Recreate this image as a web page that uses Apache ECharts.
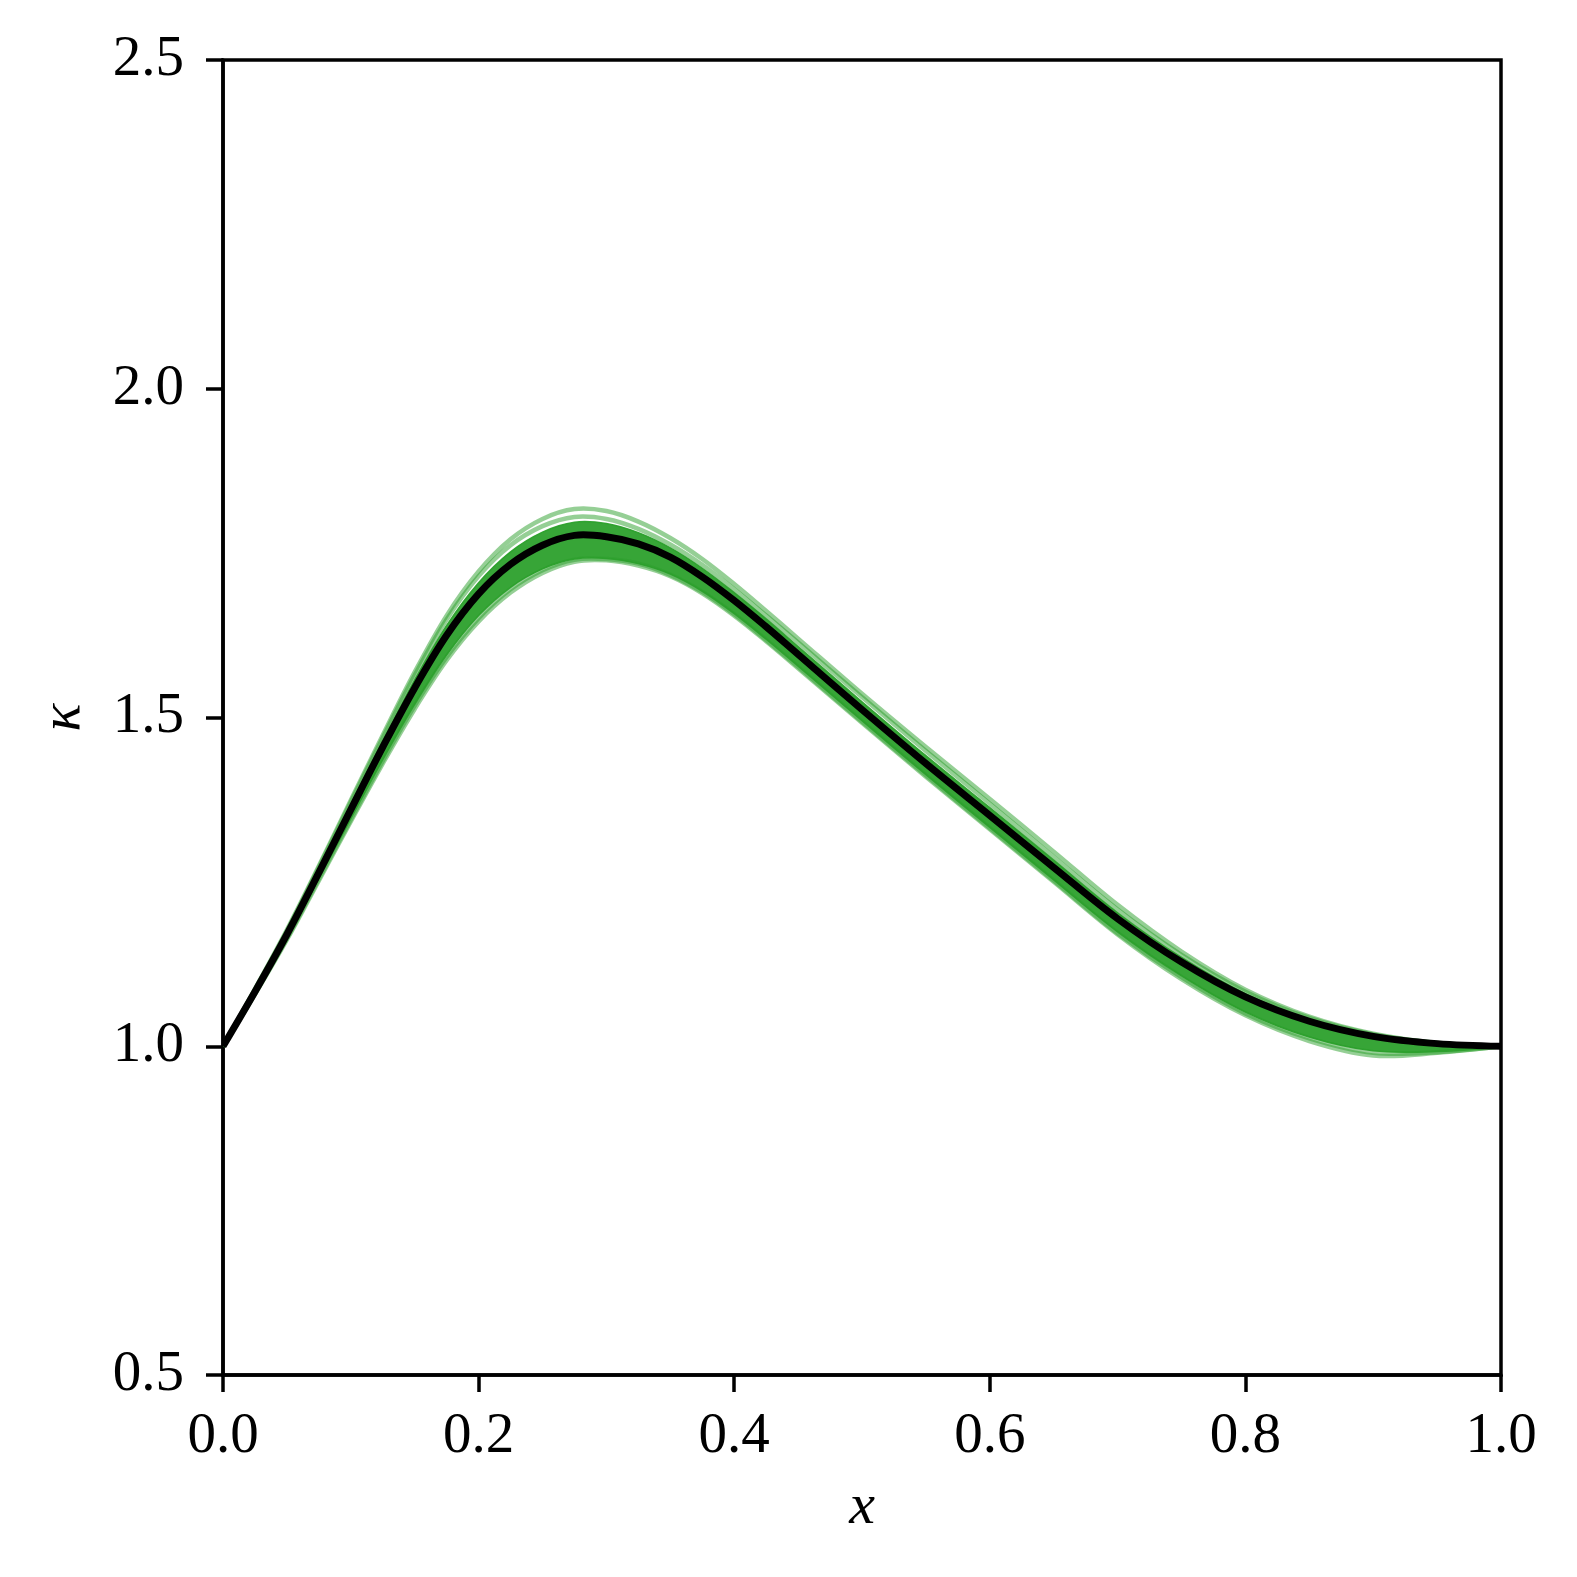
<!DOCTYPE html>
<html>
<head>
<meta charset="utf-8">
<script src="https://cdn.jsdelivr.net/npm/echarts@6/dist/echarts.min.js"></script>
<style>
html, body { margin: 0; padding: 0; background: #fff; }
#main { width: 1577px; height: 1577px; }
</style>
</head>
<body>
<div id="main"></div>
<script>
// x positions shared by every curve (denser where the curve bends)
var xs = [0, 0.025, 0.05, 0.075, 0.1, 0.125, 0.15, 0.175, 0.2, 0.225,
          0.25, 0.275, 0.3, 0.325, 0.35, 0.375, 0.4, 0.425, 0.45,
          0.5, 0.55, 0.6, 0.65, 0.7, 0.75, 0.8, 0.85, 0.9, 0.95, 1.0];

// mean curve (black)
var kappaMean = [1.000, 1.083, 1.170, 1.264, 1.360, 1.455, 1.545, 1.625, 1.688, 1.733,
                 1.762, 1.777, 1.775, 1.764, 1.744, 1.714, 1.678, 1.638, 1.596,
                 1.512, 1.430, 1.351, 1.272, 1.194, 1.128, 1.075, 1.038, 1.015, 1.004, 1.000];

// dense core of the sample ensemble (where the green lines pile up)
var coreUpper = [1.000, 1.085, 1.173, 1.269, 1.367, 1.464, 1.557, 1.640, 1.705, 1.752,
                 1.782, 1.797, 1.795, 1.781, 1.758, 1.727, 1.690, 1.650, 1.608,
                 1.524, 1.442, 1.363, 1.283, 1.203, 1.135, 1.080, 1.041, 1.017, 1.005, 1.000];
var coreLower = [1.000, 1.080, 1.164, 1.255, 1.346, 1.436, 1.520, 1.595, 1.655, 1.698,
                 1.726, 1.741, 1.742, 1.734, 1.718, 1.692, 1.658, 1.619, 1.578,
                 1.495, 1.413, 1.333, 1.253, 1.174, 1.107, 1.052, 1.014, 0.993, 0.992, 1.000];

// outlying samples (thin light green lines)
var sampleTop1 = [1.000, 1.087, 1.177, 1.274, 1.374, 1.473, 1.569, 1.655, 1.722, 1.771,
                  1.802, 1.817, 1.814, 1.798, 1.773, 1.741, 1.703, 1.662, 1.620,
                  1.536, 1.455, 1.376, 1.296, 1.215, 1.144, 1.086, 1.045, 1.019, 1.005, 1.000];
var sampleTop2 = [1.000, 1.086, 1.175, 1.272, 1.371, 1.469, 1.564, 1.649, 1.715, 1.762,
                  1.791, 1.805, 1.802, 1.787, 1.763, 1.732, 1.695, 1.655, 1.614,
                  1.531, 1.449, 1.369, 1.288, 1.208, 1.139, 1.083, 1.043, 1.018, 1.005, 1.000];
var sampleLow1 = [1.000, 1.079, 1.162, 1.252, 1.342, 1.430, 1.513, 1.587, 1.646, 1.690,
                  1.720, 1.737, 1.739, 1.731, 1.715, 1.689, 1.655, 1.616, 1.575,
                  1.492, 1.410, 1.330, 1.250, 1.170, 1.102, 1.047, 1.008, 0.986, 0.990, 1.000];
var sampleLow2 = [1.000, 1.080, 1.164, 1.255, 1.345, 1.434, 1.518, 1.592, 1.651, 1.695,
                  1.724, 1.740, 1.741, 1.734, 1.717, 1.691, 1.657, 1.618, 1.577,
                  1.494, 1.412, 1.332, 1.252, 1.172, 1.105, 1.050, 1.012, 0.990, 0.991, 1.000];

var outliers = [sampleTop1, sampleTop2, sampleLow1, sampleLow2];

// axis ticks
var xTicks = [0.0, 0.2, 0.4, 0.6, 0.8, 1.0];
var yTicks = [0.5, 1.0, 1.5, 2.0, 2.5];

var serif = "'Liberation Serif', 'DejaVu Serif', serif";
var green = '#2ca02c';
var SMOOTH = 0.35;

// map a curve to pixel points through the chart's own axes
function toPixels(api, ys) {
    return xs.map(function (x, i) { return api.coord([x, ys[i]]); });
}

function curveSeries(name, ys, z, style) {
    return {
        name: name,
        type: 'custom',
        coordinateSystem: 'cartesian2d',
        silent: true,
        clip: true,
        z: z,
        data: [[xs[0], ys[0]]],
        renderItem: function (params, api) {
            return {
                type: 'polyline',
                shape: { points: toPixels(api, ys), smooth: SMOOTH },
                style: style
            };
        }
    };
}

var series = [];

// filled core band: upper edge forward, lower edge back
series.push({
    name: 'core',
    type: 'custom',
    coordinateSystem: 'cartesian2d',
    silent: true,
    clip: true,
    z: 1,
    data: [[xs[0], coreUpper[0]]],
    renderItem: function (params, api) {
        var up = toPixels(api, coreUpper);
        var low = toPixels(api, coreLower).slice(1, -1).reverse();
        return {
            type: 'polygon',
            shape: { points: up.concat(low), smooth: SMOOTH },
            style: { fill: green, opacity: 0.95, stroke: green, lineWidth: 1.5 }
        };
    }
});

outliers.forEach(function (s, i) {
    series.push(curveSeries('sample' + (i + 1), s, 2,
        { fill: null, stroke: green, lineWidth: 4.5, opacity: 0.5, lineJoin: 'round' }));
});

series.push(curveSeries('mean', kappaMean, 5,
    { fill: null, stroke: '#000', lineWidth: 7, lineJoin: 'round' }));

var option = {
    backgroundColor: '#fff',
    animation: false,
    grid: {
        left: 223, top: 60, right: 76, bottom: 202,
        show: true, borderColor: '#000', borderWidth: 3.5,
        backgroundColor: 'transparent'
    },
    xAxis: {
        type: 'value',
        min: xTicks[0], max: xTicks[xTicks.length - 1], interval: 0.2,
        name: 'x',
        nameLocation: 'middle',
        nameGap: 104,
        nameTextStyle: { fontFamily: serif, fontStyle: 'italic', fontSize: 58, color: '#000' },
        axisLine: { lineStyle: { color: '#000', width: 3.5 } },
        axisTick: { length: 17, lineStyle: { color: '#000', width: 3.5 } },
        axisLabel: {
            margin: 34, fontFamily: serif, fontSize: 57, color: '#000',
            showMinLabel: true, showMaxLabel: true,
            formatter: function (v) { return v.toFixed(1); }
        },
        splitLine: { show: false }
    },
    yAxis: {
        type: 'value',
        min: yTicks[0], max: yTicks[yTicks.length - 1], interval: 0.5,
        name: 'κ',
        nameLocation: 'middle',
        nameGap: 130,
        nameRotate: 90,
        nameTextStyle: { fontFamily: serif, fontStyle: 'italic', fontSize: 58, color: '#000' },
        axisLine: { lineStyle: { color: '#000', width: 3.5 } },
        axisTick: { length: 17, lineStyle: { color: '#000', width: 3.5 } },
        axisLabel: {
            margin: 39, fontFamily: serif, fontSize: 57, color: '#000',
            showMinLabel: true, showMaxLabel: true,
            formatter: function (v) { return v.toFixed(1); }
        },
        splitLine: { show: false }
    },
    series: series
};

var myChart = echarts.init(document.getElementById('main'), null, { renderer: 'canvas' });
myChart.setOption(option);
</script>
</body>
</html>
